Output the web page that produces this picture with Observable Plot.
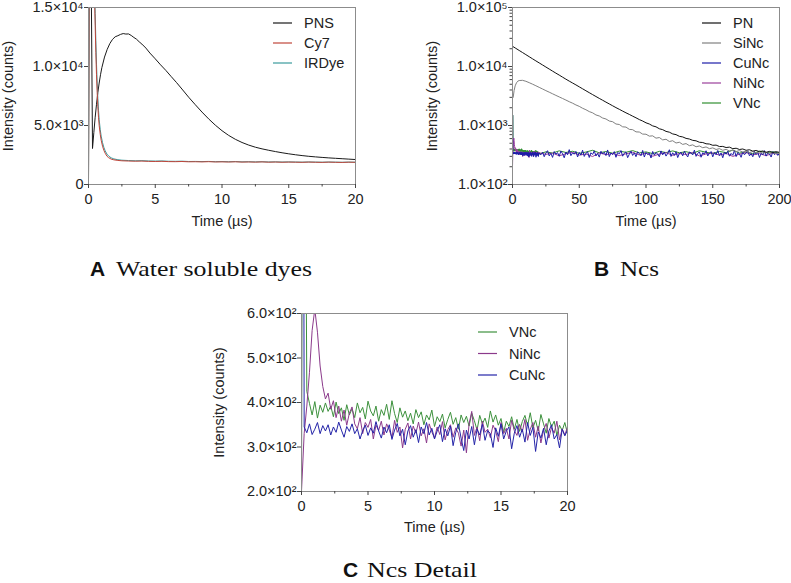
<!DOCTYPE html>
<html><head><meta charset="utf-8">
<script src="https://cdn.jsdelivr.net/npm/d3@7"></script>
<script src="https://cdn.jsdelivr.net/npm/@observablehq/plot@0.6"></script>
<style>
body{margin:0;background:#fff;}
#root{position:relative;width:791px;height:583px;overflow:hidden;background:#fff;}
#root svg{position:absolute;overflow:visible;}
</style></head><body><div id="root"></div>
<script>
// ---------- Panel A: Water soluble dyes (linear, 0–20 µs) ----------
const pnsTime = [0,0.05,0.15,0.2,0.3,0.4,0.5,0.6,0.7,0.8,0.9,1.0,1.2,1.4,1.6,1.8,2.0,2.2,2.4,2.6,2.8,3.0,3.2,3.4,3.6,3.8,4.0,4.3,4.6,5.0,5.4,5.8,6.2,6.6,7.0,7.5,8.0,8.5,9.0,9.5,10.0,10.5,11.0,11.5,12.0,12.5,13.0,13.5,14.0,14.5,15.0,15.5,16.0,16.5,17.0,17.5,18.0,18.5,19.0,19.5,20.0];
const pnsIntensity = [0,20000,25000,18000,3050,
  4400,5700,6800,7800,8600,9300,9900,
  10800,11450,11950,12300,12520,12610,12720,12790,12750,12760,12630,12460,12310,12090,11900,
  11560,11140,
  10650,10140,9660,9140,8630,
  8090,
  7400,6760,6140,5560,5030,4560,4160,3830,3560,3340,3160,3020,2900,2790,2690,2600,2520,2450,2390,2340,2295,2255,2220,2185,2150,2115];
const dyeTime = [0,0.08,0.45,0.5,0.55,0.6,0.65,0.7,0.75,0.8,0.88,0.95,1.05,1.15,1.25,1.38,1.5,1.7,1.9,2.2,
  2.5,3.0,3.5,4.0,4.5,5.0,5.5,6.0,6.5,7.0,7.5,8.0,8.5,9.0,9.5,10.0,10.5,11.0,11.5,12.0,12.5,13.0,13.5,14.0,14.5,15.0,15.5,16.0,16.5,17.0,17.5,18.0,18.5,19.0,19.5,20.0];
const cy7Intensity = [0,30000,16000,13500,11200,9300,7800,6600,5700,5000,
  4250,3750,3250,2900,2650,2400,2280,2150,2090,2040,
  2010,1990,1975,1985,1960,1950,1965,1940,1935,1950,1925,1930,1915,1935,1910,1920,1905,1925,1900,1910,
  1895,1915,1890,1905,1885,1900,1890,1880,1900,1885,1875,1895,1880,1870,1890,1880];
const irdyeIntensity = [0,30000,17000,14500,12200,10200,8600,7300,6300,5500,
  4650,4100,3550,3150,2850,2580,2420,2260,2170,2100,
  2060,2030,2010,2020,1995,1985,1995,1970,1965,1975,1950,1955,1945,1955,1935,1945,1930,1945,1920,1930,
  1915,1930,1910,1920,1905,1915,1905,1895,1910,1900,1890,1905,1895,1885,1900,1890];
const namesA = ["PNS","Cy7","IRDye"];
const colorsA = ["#1a1a1a","#c0453a","#3a9a9c"];
const xTicksA = [0,5,10,15,20];
const yTicksA = [0,5000,10000,15000];
const yLabelsA = ["0","5.0×10³","1.0×10⁴","1.5×10⁴"];

// ---------- Panel C: Ncs detail (linear, 0–20 µs); grid 0.2, 0.4 … 20.0 ----------
const gridStepC = 0.2;
const cuHeadTime = [0,0.03,0.12], cuHeadVal = [200,1500,1500];
const vHeadTime = [0,0.1], vHeadVal = [200,1500];
const niHeadTime = [0], niHeadVal = [200];
const cuGrid = [345,332,352,328,340,355,330,348,336,350,
  327,345,333,356,338,322,346,335,352,330,
  341,318,337,349,326,343,331,357,336,320,
  345,332,350,317,338,353,325,340,305,336,
  348,322,339,310,345,330,355,327,342,318,
  336,350,312,341,325,347,303,333,352,320,
  292,338,318,346,305,340,327,351,315,337,
  330,299,343,324,352,318,336,345,296,331,
  348,322,340,311,355,326,344,290,334,320,
  342,305,336,350,318,328,298,340,325,338];
const vGrid = [1500,425,398,372,402,365,394,378,399,380,
  392,368,401,375,388,360,395,372,386,366,
  399,377,389,363,403,381,370,392,358,384,
  371,396,362,404,375,355,388,367,381,359,
  376,352,384,366,379,350,372,361,383,346,
  368,357,374,343,362,378,351,366,340,372,
  355,369,347,376,359,338,371,352,365,344,
  381,356,372,349,364,333,358,346,368,340,
  362,335,357,371,348,377,343,360,336,373,
  352,331,364,345,358,326,349,337,355,330];
const niGrid = [330,392,468,562,610,558,482,436,408,421,
  385,404,366,392,358,383,349,376,390,352,
  341,366,330,355,344,362,318,349,337,358,
  327,352,338,321,360,333,345,298,340,354,
  318,347,331,356,325,341,309,352,334,320,
  345,328,357,316,339,350,322,343,331,302,
  338,287,352,380,326,345,314,358,333,340,
  321,349,336,312,355,330,342,318,360,337,
  326,351,334,362,315,340,355,322,347,309,
  338,353,320,344,331,358,316,341,327,345];
const namesC = ["VNc","NiNc","CuNc"];
const colorsC = ["#3d913d","#8b3a8b","#2424a8"];
const xTicksC = [0,5,10,15,20];
const yTicksC = [200,300,400,500,600];
const yLabelsC = ["2.0×10²","3.0×10²","4.0×10²","5.0×10²","6.0×10²"];

// ---------- Panel B: Ncs (log, 0–200 µs) ----------
const pnStep = 2.5; // PN sampled 0, 2.5 … 200
const pnIntensity = [22000,20300,18700,17250,15900,14650,13500,12450,11500,10620,
  9800,9050,8350,7720,7150,6600,6100,5650,5250,4880,
  4520,4190,3880,3600,3340,3100,2880,2680,2490,2320,
  2160,2010,1880,1755,1640,1540,1440,1350,1260,1190,1110,
  1060,985,950,880,850,795,770,720,700,655,
  640,605,590,560,550,520,515,490,485,462,
  465,440,442,423,430,405,412,392,400,380,
  388,368,378,360,370,352,364,348,360,350];
const siHeadTime = [0.5,1.2,2,3,4], siHeadVal = [3000,3900,4700,5300,5650];
const siGridStart = 5; // then every 2.5 µs to 200
const siIntensity = [5780,5830,5620,5320,5020,4720,4430,4160,3900,3670,3450,3240,3050,2870,2700,2530,2390,2230,2110,
  1960,1850,1720,1640,1510,1450,1340,1290,1190,1160,1060,1040,950,940,860,850,780,775,715,712,
  660,668,610,625,570,585,535,552,505,520,478,494,455,470,436,450,420,433,405,418,
  392,405,380,394,370,384,362,375,355,368,349,361,344,356,340,351,337,346,334,342];
// continuation of the CuNc / VNc / NiNc traces beyond 20 µs
const cuExtStart = 21.25, cuExtStep = 1.25;
const cuExt = [318,352,296,341,374,305,337,288,362,326,
  347,301,369,332,284,355,319,390,308,343,
  327,364,293,350,315,381,299,338,358,287,
  345,323,372,304,336,291,366,328,353,310,
  385,297,342,320,361,289,349,331,376,302,
  339,357,285,326,368,311,344,296,359,333,
  307,378,292,350,322,340,281,363,315,347,
  330,295,371,318,354,303,337,388,299,345,
  312,360,286,334,351,306,367,324,293,356,
  341,317,382,300,335,358,290,346,327,373,
  305,338,362,294,349,320,377,309,343,284,
  355,326,367,302,336,313,380,297,348,331,
  289,357,319,342,371,306,333,295,364,324,
  350,287,339,316,375,303,345,328,292,360,
  321,348,311,339];
const extStart = 25, extStep = 5;
const vExt = [358,341,372,349,366,337,355,380,344,362,
  339,368,351,376,343,357,334,365,348,371,
  345,360,338,374,352,336,363,347,383,341,
  356,332,369,346,359,340];
const niExt = [324,341,306,333,350,315,329,298,345,320,
  337,309,331,352,317,339,301,328,346,312,
  335,322,349,305,330,343,314,338,299,326,
  347,318,333,308,340,321];
const namesB = ["PN","SiNc","CuNc","NiNc","VNc"];
const colorsB = ["#111111","#808080","#1c1ca8","#9b3f9b","#2f8f2f"];
const xTicksB = [0,50,100,150,200];
const yTicksB = [100,1000,10000,100000];
const yLabelsB = ["1.0×10²","1.0×10³","1.0×10⁴","1.0×10⁵"];

// ---------- helpers ----------
const FS = 14.5;
const rows = (t, v) => t.map((x, i) => ({t: x, v: v[i]}));
const gridTimes = (start, step, n) => Array.from({length: n}, (_, i) => +(start + step * i).toFixed(3));

const cGridTime = gridTimes(gridStepC, gridStepC, cuGrid.length);
const cuC = rows(cuHeadTime.concat(cGridTime), cuHeadVal.concat(cuGrid));
const vC = rows(vHeadTime.concat(cGridTime), vHeadVal.concat(vGrid));
const niC = rows(niHeadTime.concat(cGridTime), niHeadVal.concat(niGrid));

const cuB = cuC.concat(rows(gridTimes(cuExtStart, cuExtStep, cuExt.length), cuExt));
const vB = vC.concat(rows(gridTimes(extStart, extStep, vExt.length), vExt));
const niB = niC.concat(rows(gridTimes(extStart, extStep, niExt.length), niExt));
const pnB = rows(gridTimes(0, pnStep, pnIntensity.length), pnIntensity);
const siB = rows(siHeadTime.concat(gridTimes(siGridStart, 2.5, siIntensity.length)), siHeadVal.concat(siIntensity));

function legendMark(names, colors, x0, y0, gap) {
  return () => {
    const g = d3.create("svg:g").attr("fill", "#222").attr("font-size", FS).attr("text-anchor", "start");
    names.forEach((n, i) => {
      const y = y0 + i * gap;
      g.append("line").attr("x1", x0).attr("x2", x0 + 19).attr("y1", y).attr("y2", y)
        .attr("stroke", colors[i]).attr("stroke-width", 1.2);
      g.append("text").attr("x", x0 + 31).attr("y", y).attr("dy", "0.35em").attr("text-anchor", "start").text(n);
    });
    return g.node();
  };
}

function panel(o) {
  const fmt = new Map(o.yTicks.map((v, i) => [v, o.yLabels[i]]));
  const marks = [
    ...o.series.map(s => Plot.line(s.data, {x: "t", y: "v", stroke: s.color, strokeWidth: 1, clip: true})),
    Plot.frame({stroke: "#8c8c8c"}),
    Plot.axisX({ticks: o.xTicks, tickSize: 4, tickPadding: 5, stroke: "#444", fill: "#222", fontSize: FS, label: null, tickFormat: d => String(d)}),
    Plot.axisX({ticks: o.xMinor, tickSize: 2.5, stroke: "#444", label: null, tickFormat: () => ""}),
    Plot.axisY({ticks: o.yTicks, tickSize: 4, tickPadding: 1, stroke: "#444", fill: "#222", fontSize: FS, label: null, tickFormat: d => fmt.get(d)}),
    o.yMinor ? Plot.axisY({ticks: o.yMinor, tickSize: 2.5, stroke: "#444", label: null, tickFormat: () => ""}) : null,
    Plot.text(["Time (µs)"], {text: d => d, frameAnchor: "bottom", dy: o.xLabelDy, lineAnchor: "middle", textAnchor: "middle", fontSize: FS, fill: "#222"}),
    Plot.text(["Intensity (counts)"], {text: d => d, frameAnchor: "left", dx: o.yLabelDx, rotate: -90, lineAnchor: "middle", textAnchor: "middle", fontSize: FS, fill: "#222"}),
    legendMark(o.names, o.colors, o.legend[0], o.legend[1], o.legend[2])
  ].filter(Boolean);
  const svg = Plot.plot({
    width: o.width, height: o.height,
    marginLeft: o.m[0], marginRight: o.m[1], marginTop: o.m[2], marginBottom: o.m[3],
    x: {domain: o.xDomain, label: null},
    y: {type: o.yType || "linear", domain: o.yDomain, label: null},
    style: {fontFamily: '"Liberation Sans", Arial, sans-serif', fontSize: FS + "px", color: "#222", background: "transparent", overflow: "visible"},
    marks
  });
  svg.style.left = o.left + "px";
  svg.style.top = o.top + "px";
  document.getElementById("root").appendChild(svg);
}

panel({
  left: 0, top: 0, width: 395, height: 240, m: [88, 40, 7, 56],
  xDomain: [0, 20], yDomain: [0, 15000],
  xTicks: xTicksA, xMinor: [2.5, 7.5, 12.5, 17.5],
  yTicks: yTicksA, yLabels: yLabelsA,
  series: [
    {data: rows(pnsTime, pnsIntensity), color: colorsA[0]},
    {data: rows(dyeTime, irdyeIntensity), color: colorsA[2]},
    {data: rows(dyeTime, cy7Intensity), color: colorsA[1]}
  ],
  names: namesA, colors: colorsA, legend: [273, 23, 20],
  xLabelDy: 37, yLabelDx: -80
});

const logMinor = [];
[100, 1000, 10000].forEach(b => { for (let k = 2; k <= 9; k++) logMinor.push(b * k); });
panel({
  left: 395, top: 0, width: 396, height: 240, m: [117, 12, 7, 56],
  xDomain: [0, 200], yDomain: [100, 100000], yType: "log",
  xTicks: xTicksB, xMinor: [25, 75, 125, 175],
  yTicks: yTicksB, yLabels: yLabelsB, yMinor: logMinor,
  series: [
    {data: vB, color: colorsB[4]},
    {data: niB, color: colorsB[3]},
    {data: cuB, color: colorsB[2]},
    {data: siB, color: colorsB[1]},
    {data: pnB, color: colorsB[0]}
  ],
  names: namesB, colors: colorsB, legend: [307, 23, 20],
  xLabelDy: 37, yLabelDx: -80
});

panel({
  left: 180, top: 290, width: 420, height: 260, m: [121, 33, 23, 59],
  xDomain: [0, 20], yDomain: [200, 600],
  xTicks: xTicksC, xMinor: [2.5, 7.5, 12.5, 17.5],
  yTicks: yTicksC, yLabels: yLabelsC,
  series: [
    {data: vC, color: colorsC[0]},
    {data: niC, color: colorsC[1]},
    {data: cuC, color: colorsC[2]}
  ],
  names: namesC, colors: colorsC, legend: [298, 42, 21.5],
  xLabelDy: 36, yLabelDx: -82
});

// ---------- captions ----------
const captions = [
  {tag: "A", text: "Water soluble dyes", x: 90, tx: 116, len: 196, y: 276},
  {tag: "B", text: "Ncs", x: 594, tx: 620, len: 39, y: 276},
  {tag: "C", text: "Ncs Detail", x: 343, tx: 367, len: 110, y: 577}
];
const cap = d3.create("svg").attr("width", 791).attr("height", 583).style("left", "0px").style("top", "0px").style("pointer-events", "none");
captions.forEach(c => {
  cap.append("text").attr("x", c.x).attr("y", c.y).attr("font-family", '"Liberation Sans", Arial, sans-serif')
    .attr("font-weight", "bold").attr("font-size", 21).attr("fill", "#111").text(c.tag);
  cap.append("text").attr("x", c.tx).attr("y", c.y).attr("font-family", '"Liberation Serif", "DejaVu Serif", serif')
    .attr("font-size", 21).attr("fill", "#111").attr("textLength", c.len).attr("lengthAdjust", "spacingAndGlyphs").text(c.text);
});
document.getElementById("root").appendChild(cap.node());
</script></body></html>
